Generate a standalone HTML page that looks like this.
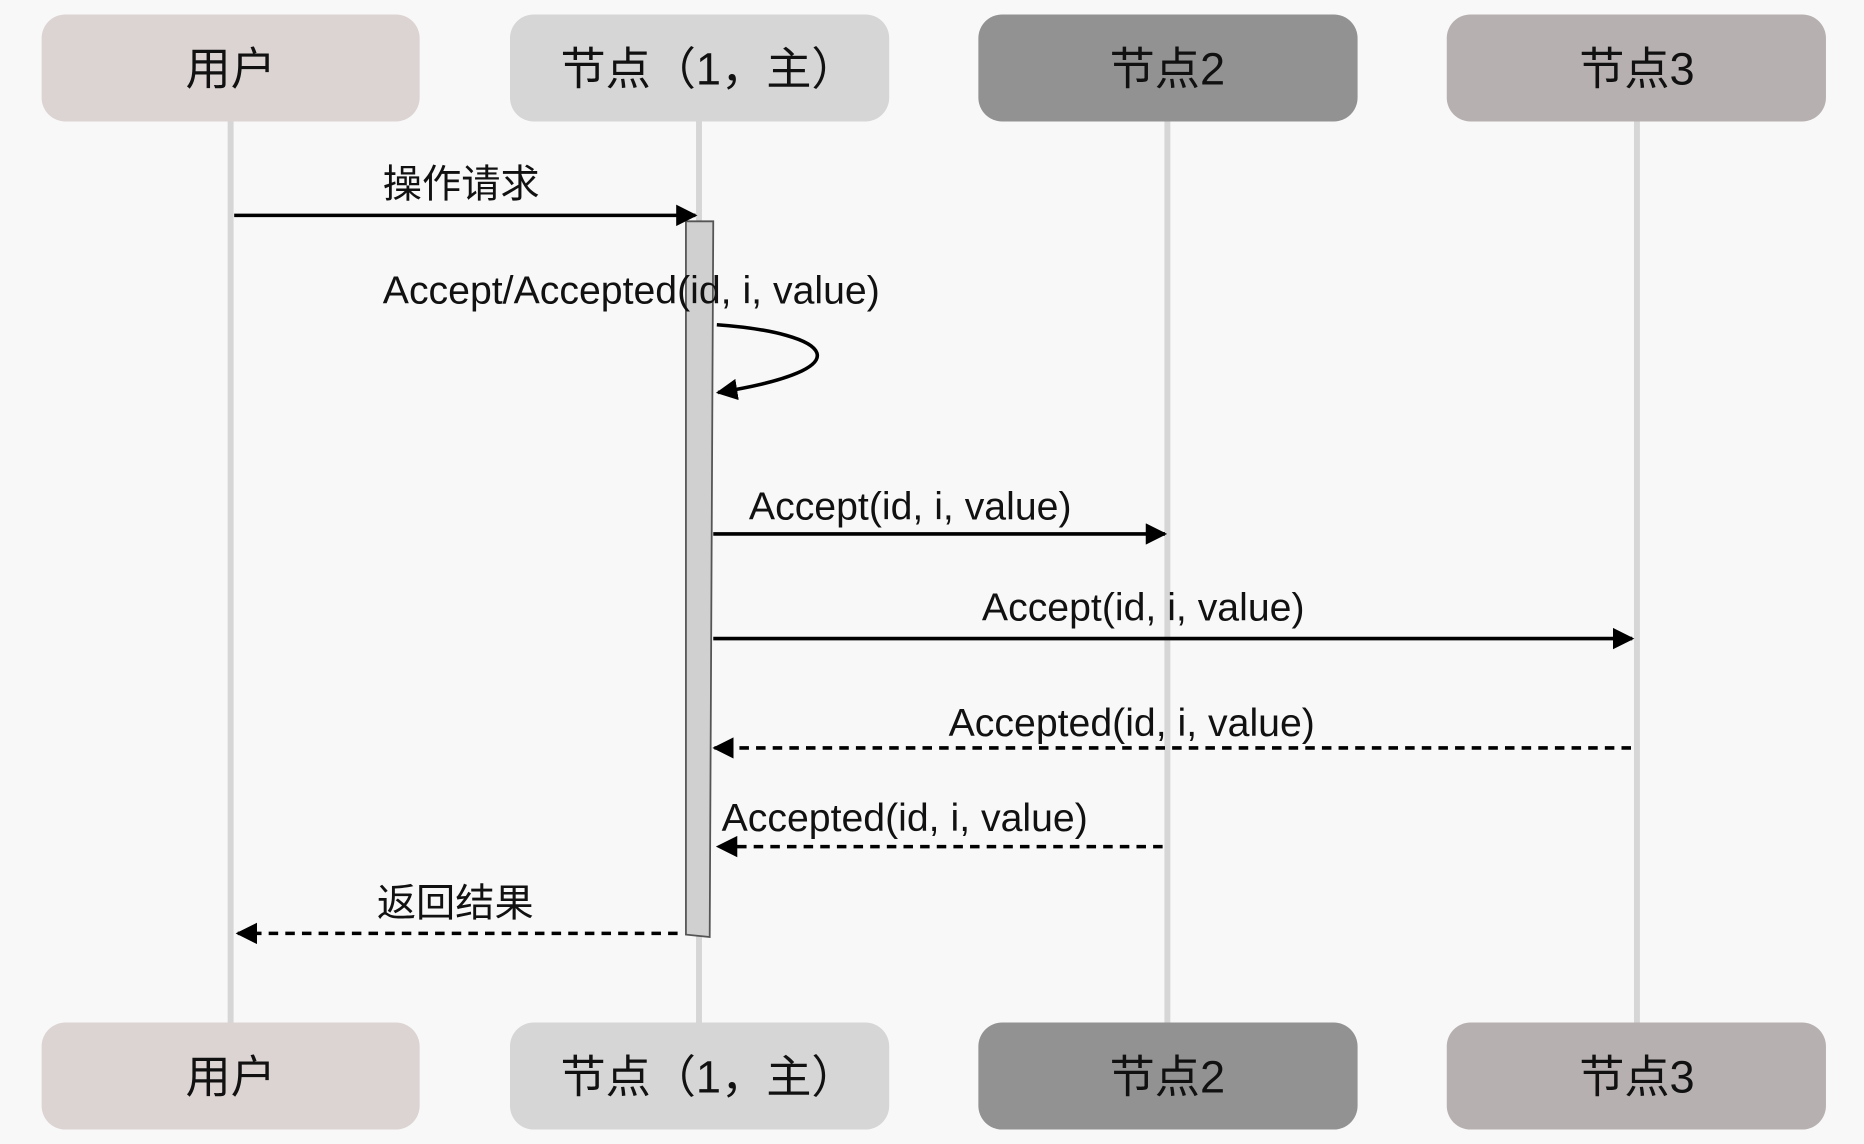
<!DOCTYPE html>
<html><head><meta charset="utf-8"><style>
html,body{margin:0;padding:0;background:#f9f8f8;}
svg{display:block;}
text{font-family:"Liberation Sans","Noto Sans CJK SC",sans-serif;fill:#111;}
</style></head><body>
<svg width="1864" height="1144" viewBox="0 0 1568 962" xmlns="http://www.w3.org/2000/svg">
<defs>
<marker id="a" viewBox="0 0 10 10" refX="9" refY="5" markerWidth="6" markerHeight="6" orient="auto"><path d="M0,0 L10,5 L0,10 z" fill="#000"/></marker>
</defs>
<rect width="1568" height="962" fill="#f9f8f8"/>
<g stroke="#d6d6d6" stroke-width="5">
<line x1="194" y1="100" x2="194" y2="862"/>
<line x1="588" y1="100" x2="588" y2="862"/>
<line x1="982" y1="100" x2="982" y2="862"/>
<line x1="1377" y1="100" x2="1377" y2="862"/>
</g>
<g>
<rect x="35" y="12" width="318" height="90" rx="20" fill="#dcd4d3"/>
<rect x="429" y="12" width="319" height="90" rx="20" fill="#d6d6d6"/>
<rect x="823" y="12" width="319" height="90" rx="20" fill="#929292"/>
<rect x="1217" y="12" width="319" height="90" rx="20" fill="#b7b0b0"/>
<rect x="35" y="860" width="318" height="90" rx="20" fill="#dcd4d3"/>
<rect x="429" y="860" width="319" height="90" rx="20" fill="#d6d6d6"/>
<rect x="823" y="860" width="319" height="90" rx="20" fill="#929292"/>
<rect x="1217" y="860" width="319" height="90" rx="20" fill="#b7b0b0"/>
</g>
<g font-size="38" text-anchor="middle">
<text x="194" y="71">用户</text>
<text x="596" y="71">节点（1，主）</text>
<text x="982" y="71">节点2</text>
<text x="1377" y="71">节点3</text>
<text x="194" y="919">用户</text>
<text x="596" y="919">节点（1，主）</text>
<text x="982" y="919">节点2</text>
<text x="1377" y="919">节点3</text>
</g>
<path d="M577,186 L600,186 L597,788 L577,786 z" fill="#d0d0d0" stroke="#555" stroke-width="1.5"/>
<g stroke="#000" stroke-width="3" fill="none">
<line x1="197" y1="181" x2="585" y2="181" marker-end="url(#a)"/>
<path d="M603,273 C700,280 730,310 604,330" marker-end="url(#a)"/>
<line x1="600" y1="449" x2="980" y2="449" marker-end="url(#a)"/>
<line x1="600" y1="537" x2="1373" y2="537" marker-end="url(#a)"/>
<line x1="1372" y1="629" x2="601" y2="629" stroke-dasharray="8,6" marker-end="url(#a)"/>
<line x1="978" y1="712" x2="604" y2="712" stroke-dasharray="8,6" marker-end="url(#a)"/>
<line x1="570" y1="785" x2="200" y2="785" stroke-dasharray="8,6" marker-end="url(#a)"/>
</g>
<g font-size="33">
<text x="322" y="166">操作请求</text>
<text x="322" y="255">Accept/Accepted(id, i, value)</text>
<text x="630" y="437">Accept(id, i, value)</text>
<text x="826" y="522">Accept(id, i, value)</text>
<text x="798" y="619">Accepted(id, i, value)</text>
<text x="607" y="699">Accepted(id, i, value)</text>
<text x="317" y="771">返回结果</text>
</g>
</svg>
</body></html>
